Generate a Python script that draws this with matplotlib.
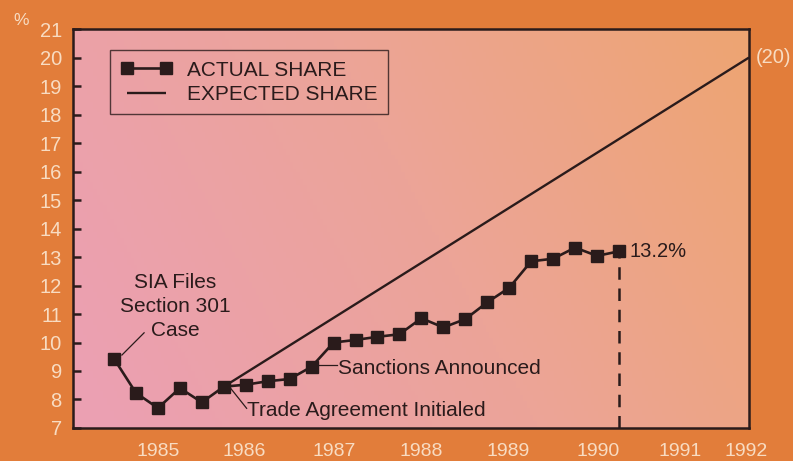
import numpy as np
import matplotlib.pyplot as plt
from matplotlib.colors import LinearSegmentedColormap

plt.rcParams['font.family'] = ['Liberation Sans', 'DejaVu Sans']

# quarterly share, mid-1984 onward (quarter index 0..23)
quarters = np.arange(24)
actual_share = [9.43, 8.23, 7.70, 8.40, 7.90, 8.45, 8.52, 8.64, 8.72, 9.15,
                10.00, 10.09, 10.20, 10.29, 10.85, 10.53, 10.82, 11.41, 11.92,
                12.85, 12.94, 13.33, 13.04, 13.20]
expected_start = 8.45
expected_end = 20
years = ['1985', '1986', '1987', '1988', '1989', '1990', '1991', '1992']
year_pos = [2.0, 5.95, 10.05, 14.0, 17.95, 22.05, 25.8, 28.8]

ink = '#2a1b1b'
cream = '#f8dcc2'
outer = '#e27d3a'

fig = plt.figure(figsize=(7.93, 4.61), dpi=100)
fig.patch.set_facecolor(outer)
ax = fig.add_axes([0.092, 0.0716, 0.8525, 0.8654])

xmin, xmax = -1.87, 28.92
ymin, ymax = 7, 21
ax.set_xlim(xmin, xmax)
ax.set_ylim(ymin, ymax)

# pink-to-peach background wash
gx, gy = np.meshgrid(np.linspace(0, 1, 200), np.linspace(0, 1, 120))
grad = np.clip(0.8 * gx + 0.25 * (1 - gy) - 0.05, 0, 1)
cmap = LinearSegmentedColormap.from_list('wash', ['#eba0b2', '#eca498', '#eea472'])
ax.imshow(grad, extent=[xmin, xmax, ymin, ymax], origin='upper', cmap=cmap,
          aspect='auto', zorder=0)

# expected share line
ax.plot([5, xmax], [expected_start, expected_end], color=ink, lw=1.7,
        solid_capstyle='butt', clip_on=False, zorder=3, label='EXPECTED SHARE')
# actual share
ax.plot(quarters, actual_share, color=ink, lw=1.9, marker='s', ms=8,
        mec=ink, mfc=ink, zorder=4, label='ACTUAL SHARE')
# drop line from latest value
ax.plot([quarters[-1], quarters[-1]], [ymin, actual_share[-1]], color=ink,
        lw=1.8, dashes=(5, 3.5), zorder=3)

for s in ax.spines.values():
    s.set_linewidth(1.8)
    s.set_color(ink)
    s.set_zorder(5)

ax.set_yticks(range(7, 22))
ax.tick_params(axis='y', direction='in', length=6, width=1.8, color=ink,
               labelcolor=cream, labelsize=14.5, pad=8)
ax.set_xticks(year_pos)
ax.set_xticklabels(years)
ax.tick_params(axis='x', length=0, labelcolor=cream, labelsize=14, pad=11)
fig.text(0.027, 0.955, '%', color=cream, fontsize=12.5, ha='center', va='center')

leg = ax.legend(handles=ax.get_lines()[1::-1], loc='upper left',
                bbox_to_anchor=(0.055, 0.947), borderaxespad=0, fontsize=15,
                numpoints=2, handlelength=2.5, handletextpad=0.7,
                labelspacing=0.25, borderpad=0.5, fancybox=False,
                facecolor='none', edgecolor=ink)
leg.get_frame().set_linewidth(1.0)
for t in leg.get_texts():
    t.set_color(ink)

# event callouts
ax.text(2.78, 11.26, 'SIA Files\nSection 301\nCase', ha='center', va='center',
        fontsize=15, color=ink, linespacing=1.35)
ax.plot([0.36, 1.37], [9.56, 10.34], color=ink, lw=0.9)
ax.plot([5.19, 6.04], [8.51, 7.69], color=ink, lw=0.9)
ax.text(6.04, 7.63, 'Trade Agreement Initialed', ha='left', va='center',
        fontsize=15, color=ink)
ax.plot([9.15, 10.14], [9.21, 9.21], color=ink, lw=0.9)
ax.text(10.19, 9.1, 'Sanctions Announced', ha='left', va='center',
        fontsize=15, color=ink)

ax.text(23.5, actual_share[-1], '13.2%', ha='left', va='center', fontsize=14.5,
        color=ink)
ax.text(29.23, expected_end, '(20)', ha='left', va='center', fontsize=14.5,
        color=cream, clip_on=False)

fig.savefig('out.png', dpi=100, facecolor=outer)
